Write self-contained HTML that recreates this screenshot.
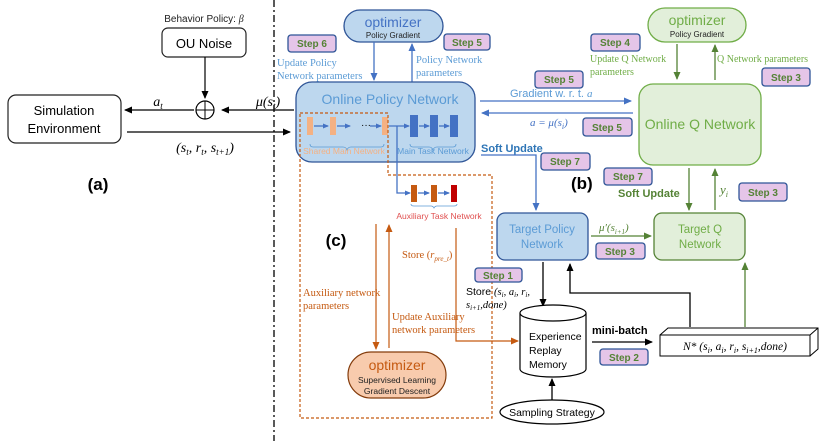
<!DOCTYPE html>
<html><head><meta charset="utf-8"><style>
body{margin:0;background:#fff}
svg{display:block;font-family:"Liberation Sans","DejaVu Sans",sans-serif}
.serif{font-family:"Liberation Serif",serif}
.st rect{fill:#e5c5e8;stroke:#2f5597;stroke-width:1.3}
.st text{fill:#548235;font-size:10px;font-weight:bold;text-anchor:middle}
</style></head><body>
<svg width="831" height="441" viewBox="0 0 831 441" xmlns="http://www.w3.org/2000/svg">
<defs>
<marker id="ak" markerWidth="8" markerHeight="8" refX="7" refY="4" orient="auto" markerUnits="userSpaceOnUse"><path d="M0,0.5 L8,4 L0,7.5z" fill="#000"/></marker>
<marker id="ab" markerWidth="8" markerHeight="8" refX="7" refY="4" orient="auto" markerUnits="userSpaceOnUse"><path d="M0,0.5 L8,4 L0,7.5z" fill="#4472c4"/></marker>
<marker id="ag" markerWidth="8" markerHeight="8" refX="7" refY="4" orient="auto" markerUnits="userSpaceOnUse"><path d="M0,0.5 L8,4 L0,7.5z" fill="#548235"/></marker>
<marker id="ao" markerWidth="8" markerHeight="8" refX="7" refY="4" orient="auto" markerUnits="userSpaceOnUse"><path d="M0,0.5 L8,4 L0,7.5z" fill="#c55a11"/></marker>
<marker id="as" markerWidth="6" markerHeight="6" refX="5" refY="3" orient="auto" markerUnits="userSpaceOnUse"><path d="M0,0.5 L6,3 L0,5.5z" fill="#4472c4"/></marker>
</defs>

<!-- dash-dot divider -->
<line x1="274" y1="0" x2="274" y2="441" stroke="#222" stroke-width="1.5" stroke-dasharray="7,3,2,3"/>

<!-- (a) -->
<text x="204" y="22" font-size="10" text-anchor="middle" fill="#222">Behavior Policy: <tspan class="serif" font-style="italic">β</tspan></text>
<rect x="162" y="28" width="84" height="29" rx="6" fill="#fff" stroke="#222" stroke-width="1.2"/>
<text x="204" y="48" font-size="13" text-anchor="middle">OU Noise</text>
<line x1="205" y1="57" x2="205" y2="98" stroke="#000" stroke-width="1.2" marker-end="url(#ak)"/>
<circle cx="205" cy="110" r="9" fill="#fff" stroke="#000" stroke-width="1.2"/>
<line x1="196" y1="110" x2="214" y2="110" stroke="#000"/><line x1="205" y1="101" x2="205" y2="119" stroke="#000"/>
<rect x="8" y="95" width="113" height="48" rx="8" fill="#fff" stroke="#222" stroke-width="1.2"/>
<text x="64" y="115" font-size="13" text-anchor="middle">Simulation</text>
<text x="64" y="133" font-size="13" text-anchor="middle">Environment</text>
<line x1="194" y1="110" x2="125" y2="110" stroke="#000" stroke-width="1.2" marker-end="url(#ak)"/>
<text x="158" y="106" class="serif" font-size="14" font-style="italic" text-anchor="middle">a<tspan font-size="9" dy="3">t</tspan></text>
<line x1="294" y1="110" x2="222" y2="110" stroke="#000" stroke-width="1.2" marker-end="url(#ak)"/>
<text x="268" y="106" class="serif" font-size="14" font-style="italic" text-anchor="middle">μ(s<tspan font-size="9" dy="3">t</tspan><tspan dy="-3">)</tspan></text>
<line x1="127" y1="132" x2="290" y2="132" stroke="#000" stroke-width="1.2" marker-end="url(#ak)"/>
<text x="205" y="152" class="serif" font-size="14" font-style="italic" text-anchor="middle">(s<tspan font-size="9" dy="3">t</tspan><tspan dy="-3">, r</tspan><tspan font-size="9" dy="3">t</tspan><tspan dy="-3">, s</tspan><tspan font-size="9" dy="3">t+1</tspan><tspan dy="-3">)</tspan></text>
<text x="98" y="190" font-size="17" font-weight="bold" text-anchor="middle">(a)</text>

<!-- top-left optimizer -->
<rect x="344" y="10" width="99" height="32" rx="16" fill="#bdd7ee" stroke="#2f5597" stroke-width="1.3"/>
<text x="393" y="27" font-size="14" fill="#4472c4" text-anchor="middle">optimizer</text>
<text x="393" y="38" font-size="8" fill="#222" text-anchor="middle">Policy Gradient</text>
<g class="st"><rect x="288" y="35" width="48" height="17" rx="3"/><text x="312" y="47">Step 6</text></g>
<g class="st"><rect x="444" y="34" width="46" height="16" rx="3"/><text x="467" y="46">Step 5</text></g>
<text x="277" y="66" class="serif" font-size="10.5" fill="#5b9bd5">Update Policy</text>
<text x="277" y="79" class="serif" font-size="10.5" fill="#5b9bd5">Network parameters</text>
<text x="416" y="63" class="serif" font-size="10.5" fill="#5b9bd5">Policy Network</text>
<text x="416" y="76" class="serif" font-size="10.5" fill="#5b9bd5">parameters</text>
<line x1="374" y1="42" x2="374" y2="80" stroke="#4472c4" stroke-width="1.3" marker-end="url(#ab)"/>
<line x1="412" y1="82" x2="412" y2="44" stroke="#4472c4" stroke-width="1.3" marker-end="url(#ab)"/>

<!-- Online Policy Network -->
<rect x="296" y="82" width="179" height="80" rx="16" fill="#bdd7ee" stroke="#2f5597" stroke-width="1.3"/>
<text x="390" y="104" font-size="14" fill="#5b9bd5" text-anchor="middle">Online Policy Network</text>
<g fill="#f4b183">
<rect x="307" y="117" width="6" height="18"/><rect x="330" y="117" width="6" height="18"/><rect x="382" y="117" width="6" height="18"/></g>
<line x1="314" y1="126" x2="328" y2="126" stroke="#4472c4" stroke-width="1.3" marker-end="url(#as)"/>
<line x1="337" y1="126" x2="350" y2="126" stroke="#4472c4" stroke-width="1.3" marker-end="url(#as)"/>
<text x="361" y="128" font-size="10">···</text>
<line x1="370" y1="126" x2="381" y2="126" stroke="#4472c4" stroke-width="1.3" marker-end="url(#as)"/>
<line x1="389" y1="126" x2="409" y2="126" stroke="#4472c4" stroke-width="1.3" marker-end="url(#as)"/>
<g fill="#4472c4"><rect x="410" y="115" width="8" height="22"/><rect x="430" y="115" width="8" height="22"/><rect x="450" y="115" width="8" height="22"/></g>
<line x1="419" y1="126" x2="429" y2="126" stroke="#4472c4" stroke-width="1.3" marker-end="url(#as)"/>
<line x1="439" y1="126" x2="449" y2="126" stroke="#4472c4" stroke-width="1.3" marker-end="url(#as)"/>
<path d="M310,144 q0,3 3,3 h30 q3,0 4,3 q1,-3 4,-3 h30 q3,0 3,-3" fill="none" stroke="#5b9bd5" stroke-width="0.8"/>
<path d="M410,144 q0,3 3,3 h16 q3,0 4,3 q1,-3 4,-3 h16 q3,0 3,-3" fill="none" stroke="#5b9bd5" stroke-width="0.8"/>
<text x="344" y="154" font-size="8.5" fill="#f4b183" text-anchor="middle">Shared Main Network</text>
<text x="433" y="154" font-size="8.5" fill="#5b9bd5" text-anchor="middle">Main Task Network</text>

<!-- dashed (c) region -->
<path d="M300,113 H388 V175 H492 V418 H300 Z" fill="none" stroke="#c55a11" stroke-width="1.2" stroke-dasharray="3,2"/>
<!-- aux network -->
<path d="M397,126 V193 H410" fill="none" stroke="#4472c4" stroke-width="1.3" marker-end="url(#as)"/>
<rect x="411" y="185" width="6" height="17" fill="#c55a11"/><rect x="431" y="185" width="6" height="17" fill="#c55a11"/><rect x="451" y="185" width="6" height="17" fill="#c00000"/>
<line x1="418" y1="193" x2="429" y2="193" stroke="#4472c4" stroke-width="1.3" marker-end="url(#as)"/>
<line x1="438" y1="193" x2="449" y2="193" stroke="#4472c4" stroke-width="1.3" marker-end="url(#as)"/>
<path d="M411,204 q0,2 3,2 h17 q2,0 3,2 q1,-2 3,-2 h17 q3,0 3,-2" fill="none" stroke="#5b9bd5" stroke-width="0.8"/>
<text x="439" y="219" font-size="8.5" fill="#e05050" text-anchor="middle">Auxiliary Task Network</text>
<text x="336" y="246" font-size="17" font-weight="bold" text-anchor="middle">(c)</text>
<text x="402" y="258" class="serif" font-size="10.5" fill="#c55a11">Store  (<tspan font-style="italic">r</tspan><tspan font-size="7" font-style="italic" dy="3">pre_t</tspan><tspan dy="-3">)</tspan></text>
<path d="M456,228 V341 H518" fill="none" stroke="#c55a11" stroke-width="1.2" marker-end="url(#ao)"/>
<line x1="376" y1="224" x2="376" y2="349" stroke="#c55a11" stroke-width="1.2" marker-end="url(#ao)"/>
<line x1="389" y1="348" x2="389" y2="225" stroke="#c55a11" stroke-width="1.2" marker-end="url(#ao)"/>
<text x="303" y="296" class="serif" font-size="10.5" fill="#c55a11">Auxiliary network</text>
<text x="303" y="309" class="serif" font-size="10.5" fill="#c55a11">parameters</text>
<text x="392" y="320" class="serif" font-size="10.5" fill="#c55a11">Update Auxiliary</text>
<text x="392" y="333" class="serif" font-size="10.5" fill="#c55a11">network parameters</text>
<rect x="348" y="352" width="98" height="46" rx="23" fill="#f8cbad" stroke="#843c0c" stroke-width="1.2"/>
<text x="397" y="370" font-size="14" fill="#c55a11" text-anchor="middle">optimizer</text>
<text x="397" y="383" font-size="8.5" fill="#222" text-anchor="middle">Supervised Learning</text>
<text x="397" y="394" font-size="8.5" fill="#222" text-anchor="middle">Gradient Descent</text>

<!-- policy <-> Q -->
<line x1="480" y1="101" x2="631" y2="101" stroke="#4472c4" stroke-width="1.3" marker-end="url(#ab)"/>
<line x1="633" y1="113" x2="482" y2="113" stroke="#4472c4" stroke-width="1.3" marker-end="url(#ab)"/>
<text x="510" y="97" font-size="11" fill="#5b9bd5">Gradient  w. r. t. <tspan class="serif" font-style="italic">a</tspan></text>
<text x="530" y="126" class="serif" font-size="11" font-style="italic" fill="#4472c4">a = μ(s<tspan font-size="8" dy="3">i</tspan><tspan dy="-3">)</tspan></text>
<g class="st"><rect x="535" y="71" width="48" height="17" rx="3"/><text x="559" y="83">Step 5</text></g>
<g class="st"><rect x="583" y="118" width="49" height="18" rx="3"/><text x="607" y="131">Step 5</text></g>
<text x="481" y="152" font-size="11" font-weight="bold" fill="#2e75b6">Soft Update</text>
<path d="M481,155 H536 V210" fill="none" stroke="#4472c4" stroke-width="1.3" marker-end="url(#ab)"/>
<g class="st"><rect x="541" y="153" width="49" height="17" rx="3"/><text x="565" y="165">Step 7</text></g>
<text x="571" y="189" font-size="17" font-weight="bold">(b)</text>

<!-- right optimizer + online Q -->
<rect x="648" y="8" width="98" height="34" rx="17" fill="#e2efda" stroke="#70ad47" stroke-width="1.3"/>
<text x="697" y="25" font-size="14" fill="#70ad47" text-anchor="middle">optimizer</text>
<text x="697" y="37" font-size="8" fill="#222" text-anchor="middle">Policy Gradient</text>
<g class="st"><rect x="591" y="34" width="49" height="17" rx="3"/><text x="615" y="46">Step 4</text></g>
<g class="st"><rect x="762" y="68" width="48" height="18" rx="3"/><text x="786" y="81">Step 3</text></g>
<text x="590" y="62" class="serif" font-size="10" fill="#70ad47">Update Q Network</text>
<text x="590" y="75" class="serif" font-size="10" fill="#70ad47">parameters</text>
<text x="717" y="62" class="serif" font-size="10" fill="#70ad47">Q Network parameters</text>
<line x1="677" y1="44" x2="677" y2="79" stroke="#548235" stroke-width="1.3" marker-end="url(#ag)"/>
<line x1="715" y1="80" x2="715" y2="45" stroke="#548235" stroke-width="1.3" marker-end="url(#ag)"/>
<rect x="639" y="84" width="122" height="81" rx="14" fill="#e2efda" stroke="#70ad47" stroke-width="1.3"/>
<text x="700" y="129" font-size="14" fill="#70ad47" text-anchor="middle">Online Q Network</text>
<g class="st"><rect x="604" y="168" width="48" height="17" rx="3"/><text x="628" y="180">Step 7</text></g>
<text x="618" y="197" font-size="11" font-weight="bold" fill="#548235">Soft Update</text>
<line x1="689" y1="168" x2="689" y2="210" stroke="#548235" stroke-width="1.3" marker-end="url(#ag)"/>
<line x1="715" y1="210" x2="715" y2="169" stroke="#548235" stroke-width="1.3" marker-end="url(#ag)"/>
<text x="720" y="194" class="serif" font-size="13" font-style="italic" fill="#548235">y<tspan font-size="8" dy="3">i</tspan></text>
<g class="st"><rect x="739" y="183" width="48" height="18" rx="3"/><text x="763" y="196">Step 3</text></g>

<!-- target networks -->
<rect x="497" y="213" width="91" height="47" rx="8" fill="#bdd7ee" stroke="#2f5597" stroke-width="1.3"/>
<text x="542" y="233" font-size="11.5" fill="#5b9bd5" text-anchor="middle">Target Policy</text>
<text x="542" y="248" font-size="11.5" fill="#5b9bd5" text-anchor="middle">Network</text>
<rect x="654" y="213" width="91" height="47" rx="8" fill="#e2efda" stroke="#548235" stroke-width="1.3"/>
<text x="700" y="233" font-size="11.5" fill="#70ad47" text-anchor="middle">Target Q</text>
<text x="700" y="248" font-size="11.5" fill="#70ad47" text-anchor="middle">Network</text>
<line x1="591" y1="236" x2="651" y2="236" stroke="#548235" stroke-width="1.3" marker-end="url(#ag)"/>
<text x="599" y="231" class="serif" font-size="11" font-style="italic" fill="#548235">μ′(s<tspan font-size="7" dy="3">i+1</tspan><tspan dy="-3">)</tspan></text>
<g class="st"><rect x="596" y="243" width="49" height="16" rx="3"/><text x="620" y="255">Step 3</text></g>

<!-- replay memory -->
<line x1="543" y1="262" x2="543" y2="306" stroke="#000" stroke-width="1.3" marker-end="url(#ak)"/>
<g class="st"><rect x="475" y="268" width="47" height="14" rx="3"/><text x="498" y="279">Step 1</text></g>
<text x="466" y="295" font-size="10.5">Store <tspan class="serif" font-style="italic">(s<tspan font-size="7" dy="2">i</tspan><tspan dy="-2">, a</tspan><tspan font-size="7" dy="2">i</tspan><tspan dy="-2">, r</tspan><tspan font-size="7" dy="2">i</tspan><tspan dy="-2">,</tspan></tspan></text>
<text x="466" y="308" class="serif" font-size="10.5" font-style="italic">s<tspan font-size="7" dy="2">i+1</tspan><tspan dy="-2">,done)</tspan></text>
<path d="M520,313 V369 A33,8 0 0 0 586,369 V313" fill="#fff" stroke="#000" stroke-width="1.2"/>
<ellipse cx="553" cy="313" rx="33" ry="8" fill="#fff" stroke="#000" stroke-width="1.2"/>
<text x="529" y="340" font-size="10.5">Experience</text>
<text x="529" y="354" font-size="10.5">Replay</text>
<text x="529" y="368" font-size="10.5">Memory</text>
<text x="592" y="334" font-size="11" font-weight="bold">mini-batch</text>
<line x1="592" y1="342" x2="652" y2="342" stroke="#000" stroke-width="1.3" marker-end="url(#ak)"/>
<g class="st"><rect x="600" y="349" width="48" height="16" rx="3"/><text x="624" y="361">Step 2</text></g>
<path d="M660,335 L668,328 H818 V349 L810,356" fill="#fff" stroke="#000" stroke-width="1"/>
<line x1="810" y1="335" x2="818" y2="328" stroke="#000"/>
<rect x="660" y="335" width="150" height="21" fill="#fff" stroke="#000" stroke-width="1"/>
<text x="735" y="350" class="serif" font-size="11.5" font-style="italic" text-anchor="middle">N* (s<tspan font-size="8" dy="3">i</tspan><tspan dy="-3">, a</tspan><tspan font-size="8" dy="3">i</tspan><tspan dy="-3">, r</tspan><tspan font-size="8" dy="3">i</tspan><tspan dy="-3">, s</tspan><tspan font-size="8" dy="3">i+1</tspan><tspan dy="-3">,done)</tspan></text>
<path d="M690,327 V293 H570 V264" fill="none" stroke="#000" stroke-width="1.3" marker-end="url(#ak)"/>
<line x1="745" y1="327" x2="745" y2="263" stroke="#548235" stroke-width="1.3" marker-end="url(#ag)"/>
<ellipse cx="552" cy="412" rx="52" ry="12" fill="#fff" stroke="#000" stroke-width="1.2"/>
<text x="552" y="416" font-size="10.5" text-anchor="middle">Sampling Strategy</text>
<line x1="552" y1="400" x2="552" y2="379" stroke="#000" stroke-width="1.3" marker-end="url(#ak)"/>
</svg>
</body></html>
